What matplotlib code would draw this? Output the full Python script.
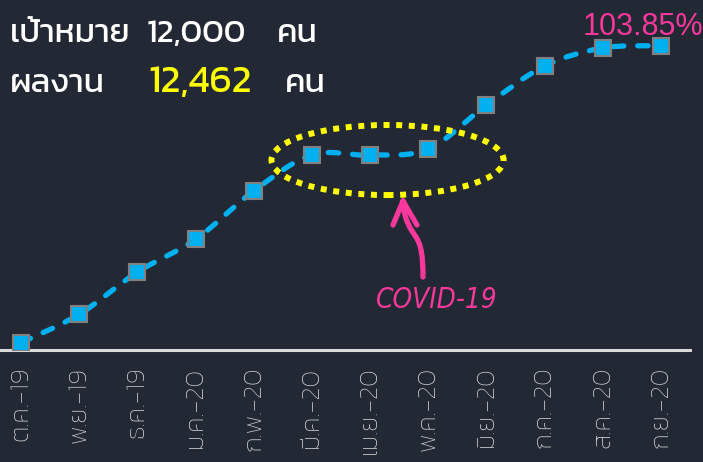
import numpy as np
import matplotlib
matplotlib.use("Agg")
import matplotlib.pyplot as plt
from matplotlib.path import Path
from matplotlib.patches import PathPatch, Ellipse

# data: cumulative results per month (Thai fiscal year)
months = ["ต.ค.-19", "พ.ย.-19", "ธ.ค.-19", "ม.ค.-20", "ก.พ.-20", "มี.ค.-20",
          "เม.ย.-20", "พ.ค.-20", "มิ.ย.-20", "ก.ค.-20", "ส.ค.-20", "ก.ย.-20"]
cumulative = [300, 1460, 3190, 4530, 6510, 7990, 7980, 8230, 10030, 11630, 12370, 12462]
target = 12000
result = 12462

THAI = ["Kanit", "DejaVu Sans"]
BG = "#232934"
BLUE = "#00B0F0"
PINK = "#F8389A"
W, H = 703, 462

plt.rcParams["lines.scale_dashes"] = False
fig = plt.figure(figsize=(W / 100, H / 100), dpi=100, facecolor=BG)
ax = fig.add_axes([0, 112 / H, 690 / W, 350 / H], facecolor=BG)

x = np.arange(len(months))
y = np.array(cumulative, dtype=float)

# smoothed line (bezier through the points, like a spreadsheet "smoothed line")
verts = [(x[0], y[0])]
codes = [Path.MOVETO]
t = 1 / 6
for i in range(len(x) - 1):
    p0 = (x[max(i - 1, 0)], y[max(i - 1, 0)])
    p1 = (x[i], y[i])
    p2 = (x[i + 1], y[i + 1])
    p3 = (x[min(i + 2, len(x) - 1)], y[min(i + 2, len(x) - 1)])
    c1 = (p1[0] + (p2[0] - p0[0]) * t, p1[1] + (p2[1] - p0[1]) * t)
    c2 = (p2[0] - (p3[0] - p1[0]) * t, p2[1] - (p3[1] - p1[1]) * t)
    verts += [c1, c2, p2]
    codes += [Path.CURVE4] * 3
line = PathPatch(Path(verts, codes), facecolor="none", edgecolor=BLUE, lw=3.8,
                 linestyle=(0, (7.5, 10)), capstyle="round", zorder=3)
ax.add_patch(line)
ax.plot(x, y, linestyle="none", marker="s", markersize=11, markerfacecolor=BLUE,
        markeredgecolor="#808080", markeredgewidth=1.5, zorder=4)

ax.set_xlim(-21 / 58.18, 669 / 58.18)
ax.set_ylim(0, 350 * result / 304.3)
for s in ["top", "right", "left"]:
    ax.spines[s].set_visible(False)
ax.spines["bottom"].set_color("#D9D9D9")
ax.spines["bottom"].set_linewidth(2.2)
ax.set_yticks([])
ax.set_xticks(x)
ax.set_xticklabels(months, rotation=90, color="#D9D9D9", fontsize=19, family=THAI,
                   weight="light")
ax.tick_params(axis="x", length=0, pad=12)

# highlight around the COVID-19 months
ell = Ellipse((6.3, 7780), 3.99, 2870, facecolor="none", edgecolor="#FFFF00",
              lw=4.3, linestyle=(0, (4.3, 4.8)), capstyle="butt", zorder=5)
ax.add_patch(ell)


def px(xp, yp):
    return (xp / W, 1 - yp / H)


arrow = Path([px(423, 277), px(423, 255), px(421, 245), px(416, 237),
              px(410, 228), px(404, 220), px(403, 201),
              px(393, 225), px(403, 201), px(417, 225)],
             [Path.MOVETO, Path.CURVE4, Path.CURVE4, Path.CURVE4,
              Path.CURVE4, Path.CURVE4, Path.CURVE4,
              Path.MOVETO, Path.LINETO, Path.LINETO])
fig.add_artist(PathPatch(arrow, transform=fig.transFigure, facecolor="none",
                         edgecolor=PINK, lw=3.8, capstyle="round", joinstyle="round"))
fig.text(437 / W, 1 - 300 / H, "COVID-19", color=PINK, fontsize=20, style="italic",
         fontstretch="condensed", weight="light", ha="center", va="center")

# header text
hdr = dict(color="white", fontsize=24, family=THAI, weight="normal", va="baseline")
fig.text(10 / W, 1 - 42 / H, "เป้าหมาย", **hdr)
fig.text(147 / W, 1 - 42 / H, f"{target:,}", **hdr)
fig.text(277 / W, 1 - 42 / H, "คน", **hdr)
fig.text(10 / W, 1 - 92 / H, "ผลงาน", **hdr)
fig.text(148 / W, 1 - 92 / H, f"{result:,}", color="#FFFF00", fontsize=28, family=THAI,
         va="baseline")
fig.text(285 / W, 1 - 92 / H, "คน", **hdr)
fig.text(703 / W, 1 - 35 / H, f"{result / target * 100:.2f}%", color=PINK, fontsize=22,
         family="Liberation Sans", ha="right", va="baseline")

fig.savefig("out.png", dpi=100, facecolor=BG)
